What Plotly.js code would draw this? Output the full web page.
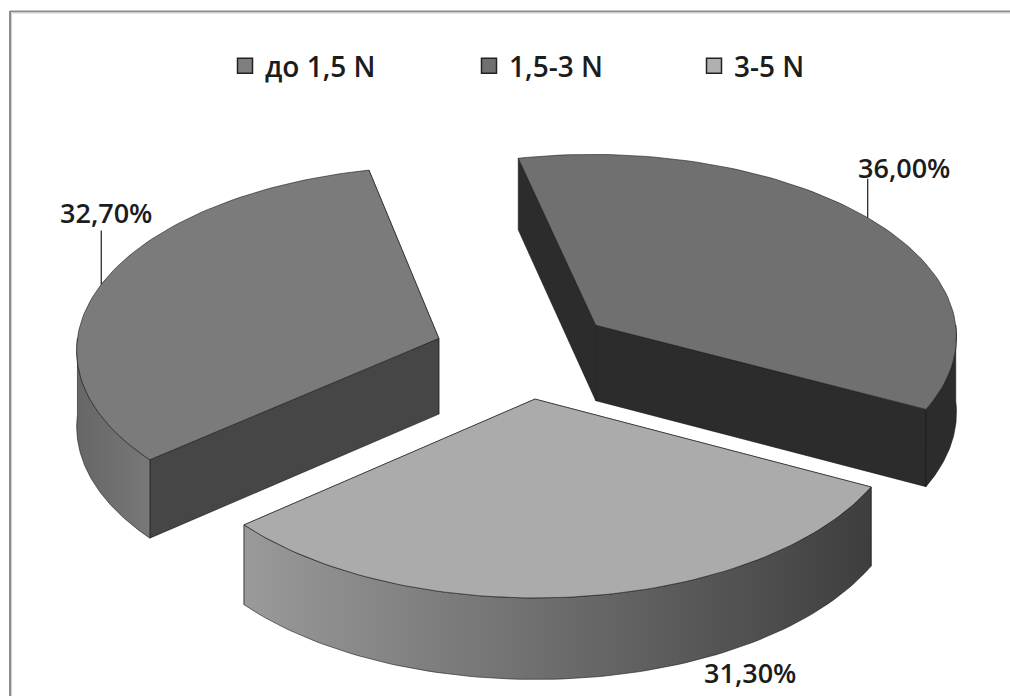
<!DOCTYPE html>
<html>
<head>
<meta charset="utf-8">
<script src="https://cdn.plot.ly/plotly-3.0.1.min.js"></script>
<style>html,body{margin:0;padding:0;background:#fff}#chart{width:1010px;height:696px}</style>
</head>
<body>
<div id="chart"></div>
<script>
// Share of each load range, percent
const categories = ['до 1,5 N', '1,5-3 N', '3-5 N'];
const shares = [32.7, 36.0, 31.3];
const topColors = ['#7b7b7b', '#707070', '#ababab'];
const legendColors = ['#7f7f7f', '#707070', '#b0b0b0'];
const rimFrom = ['#666666', '#2c2c2c', '#9a9a9a'];
const rimTo = ['#787878', '#2c2c2c', '#3e3e3e'];
const cutColors = ['#464646', '#2c2c2c', '#464646'];

// Projection of the pie plane onto the page
const view = {cx: 524.5, cy: 353, a: 363, b: 183, k: 0.054, depth: 76, explode: 0.25, firstAngle: 229.8};
const rad = d => d * Math.PI / 180;

function project(u, v, z) {
  const s = 1 / (1 - view.k * v);
  return [view.cx + view.a * u * s, view.cy + view.b * v * s + z * view.depth * s];
}

// Start and end angle of each slice, clockwise from the top of the pie
const total = shares.reduce((a, b) => a + b, 0);
let running = view.firstAngle;
const slices = shares.map((share, i) => {
  const start = running;
  const end = start + share / total * 360;
  running = end;
  const mid = rad((start + end) / 2);
  return {i, start, end, ox: view.explode * Math.sin(mid), oy: -view.explode * Math.cos(mid)};
});

function arcPoints(sl, z, from, to) {
  const pts = [];
  const n = 90;
  for (let j = 0; j <= n; j++) {
    const t = rad(from + (to - from) * j / n);
    pts.push(project(sl.ox + Math.sin(t), sl.oy - Math.cos(t), z));
  }
  return pts;
}

// The part of a slice's arc that lies on the near half of the pie (90..270 degrees)
function nearRange(sl) {
  for (const base of [90, 450]) {
    const from = Math.max(sl.start, base);
    const to = Math.min(sl.end, base + 180);
    if (to > from) return [from, to];
  }
  return null;
}

const edge = {color: 'rgba(25,25,25,0.75)', width: 0.8};
function polygon(pts, fill, gradient) {
  const tr = {
    x: pts.map(p => p[0]).concat([pts[0][0]]),
    y: pts.map(p => p[1]).concat([pts[0][1]]),
    mode: 'lines', fill: 'toself', line: edge, hoverinfo: 'skip', showlegend: false
  };
  if (gradient) {
    tr.fillgradient = {type: 'horizontal', colorscale: [[0, gradient[0]], [1, gradient[1]]]};
  } else {
    tr.fillcolor = fill;
  }
  return tr;
}

const traces = [];
slices.forEach(sl => {
  const apexTop = project(sl.ox, sl.oy, 0);
  const apexLow = project(sl.ox, sl.oy, 1);
  const arcTop = arcPoints(sl, 0, sl.start, sl.end);
  const arcLow = arcPoints(sl, 1, sl.start, sl.end);
  const last = arcTop.length - 1;
  // Cut faces, the farther one first so the nearer one covers it
  const faces = [
    [apexTop, apexLow, arcLow[0], arcTop[0]],
    [apexTop, apexLow, arcLow[last], arcTop[last]]
  ].sort((p, q) => p[3][1] - q[3][1]);
  faces.forEach(f => traces.push(polygon(f, cutColors[sl.i])));
  // Outer rim on the near half only
  const near = nearRange(sl);
  if (near) {
    const rimTop = arcPoints(sl, 0, near[0], near[1]);
    const rimLow = arcPoints(sl, 1, near[0], near[1]);
    traces.push(polygon(rimTop.concat(rimLow.reverse()), null, [rimFrom[sl.i], rimTo[sl.i]]));
  }
  traces.push(polygon([apexTop].concat(arcTop), topColors[sl.i]));
});

// Leader lines from the rim up to the value labels
const leaderAngles = [287.6, 51.9];
const leaderLength = [54, 39];
leaderAngles.forEach((angle, n) => {
  const sl = slices[n];
  const t = rad(angle);
  const p = project(sl.ox + Math.sin(t), sl.oy - Math.cos(t), 0);
  traces.push({x: [p[0], p[0]], y: [p[1], p[1] - leaderLength[n]], mode: 'lines',
    line: {color: '#1a1a1a', width: 1.2}, hoverinfo: 'skip', showlegend: false});
});

// Legend entries, each in its own legend box so the spacing can be set per entry
const legendX = [225, 469, 694];
const layoutLegends = {};
categories.forEach((name, i) => {
  const key = i === 0 ? 'legend' : 'legend' + (i + 1);
  traces.push({x: [null], y: [null], name, mode: 'markers', legend: key, showlegend: true,
    marker: {symbol: 'square', size: 15, color: legendColors[i], line: {color: '#222', width: 1.5}}});
  layoutLegends[key] = {x: legendX[i] / 1010, xanchor: 'left', y: 1 - 66 / 696, yanchor: 'middle',
    bgcolor: 'rgba(0,0,0,0)', borderwidth: 0, itemclick: false,
    font: {family: '"Open Sans", sans-serif', size: 28, color: '#1c1c1c', weight: 600}};
});

const labelFont = {family: '"Open Sans", sans-serif', size: 27, color: '#1c1c1c', weight: 600};
const labelPos = [[106, 212], [904, 167], [750, 672]];
const annotations = shares.map((v, i) => ({
  x: labelPos[i][0], y: labelPos[i][1], xref: 'x', yref: 'y', showarrow: false,
  text: v.toFixed(2).replace('.', ',') + '%', font: labelFont
}));

// Frame on the top and left sides only: a darker stroke with a pale inner one
const frame = [
  {x0: 10, y0: 11.5, x1: 1010, y1: 11.5, color: '#8c8c8c', width: 2},
  {x0: 10, y0: 13, x1: 1010, y1: 13, color: '#d2d2d2', width: 1},
  {x0: 10, y0: 11, x1: 10, y1: 696, color: '#8c8c8c', width: 2},
  {x0: 11.5, y0: 12, x1: 11.5, y1: 696, color: '#d2d2d2', width: 1}
];

const layout = Object.assign({
  width: 1010, height: 696,
  margin: {l: 0, r: 0, t: 0, b: 0},
  paper_bgcolor: '#ffffff', plot_bgcolor: '#ffffff',
  xaxis: {range: [0, 1010], visible: false, fixedrange: true},
  yaxis: {range: [696, 0], visible: false, fixedrange: true},
  annotations,
  shapes: frame.map(f => ({type: 'line', xref: 'x', yref: 'y', x0: f.x0, y0: f.y0, x1: f.x1, y1: f.y1,
    line: {color: f.color, width: f.width}}))
}, layoutLegends);

Plotly.newPlot('chart', traces, layout, {displayModeBar: false});
</script>
</body>
</html>
